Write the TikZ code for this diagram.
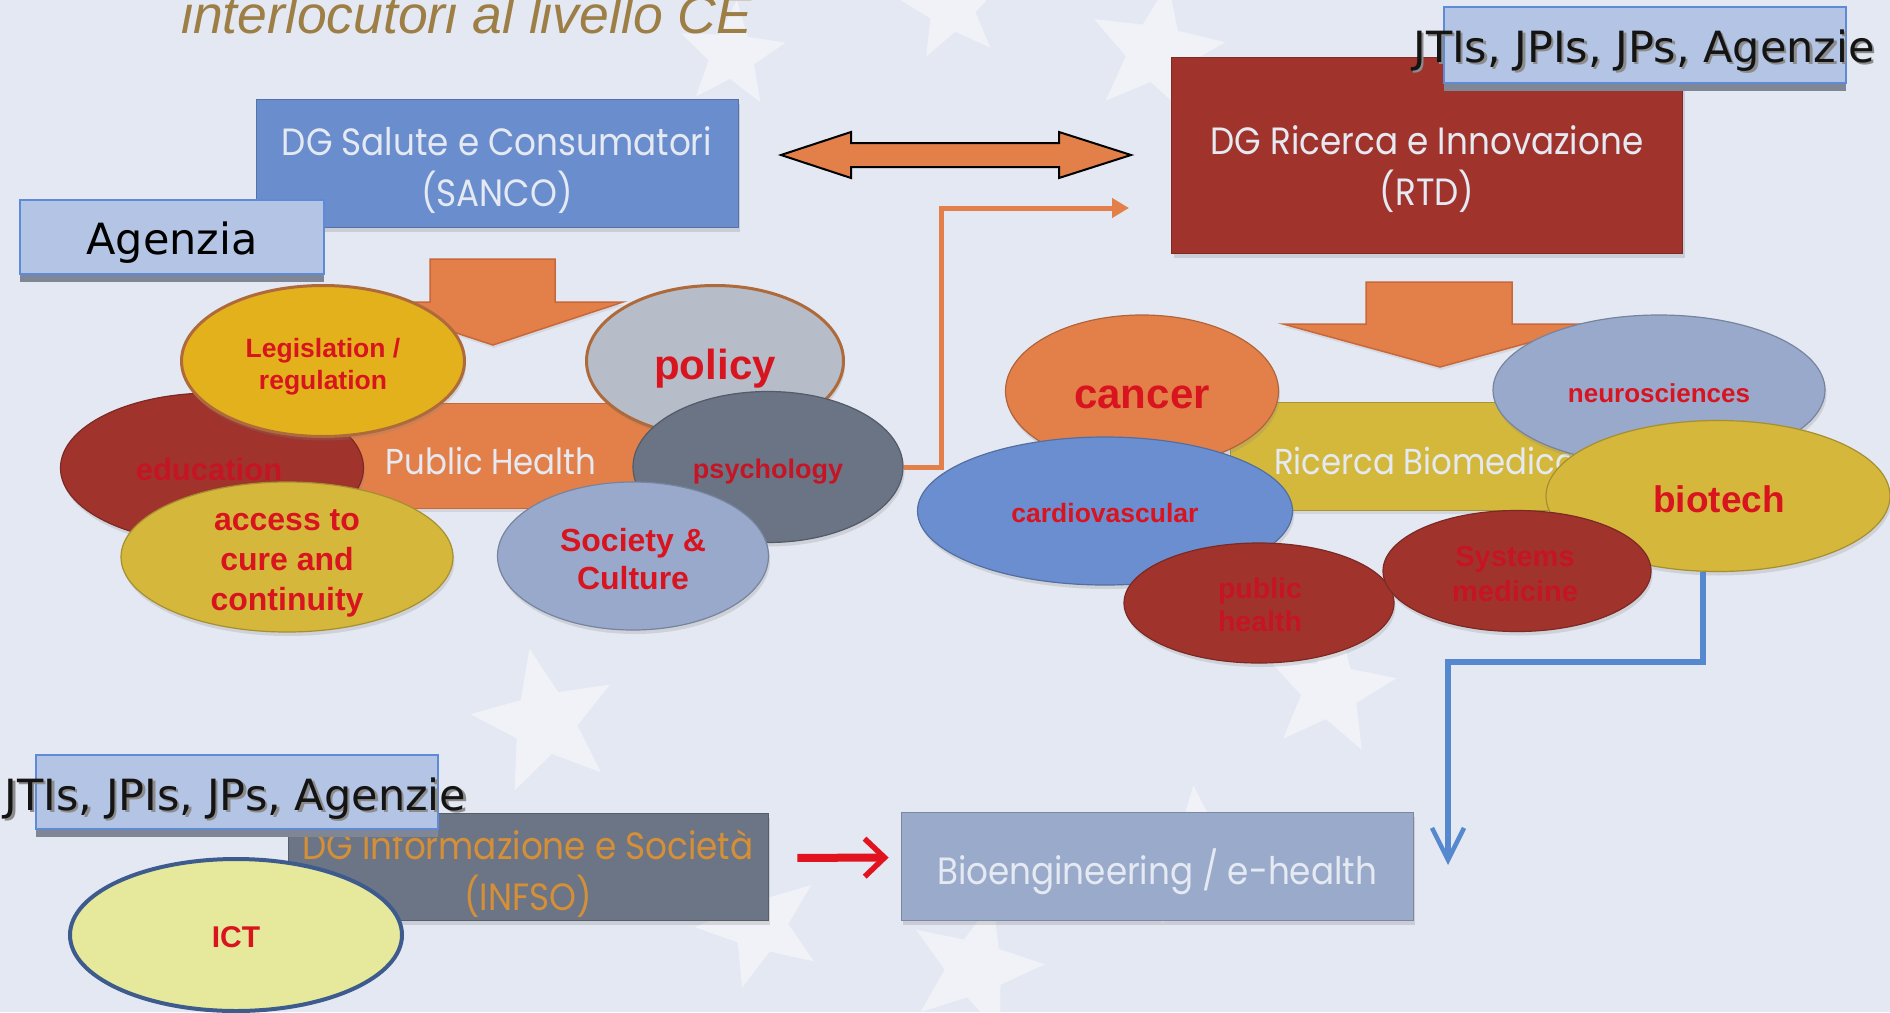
\documentclass[tikz,border=0pt]{standalone}
\usepackage{fontspec}
\setmainfont{Liberation Sans}
\newfontfamily\dejavu{DejaVu Sans}
\newfontfamily\twfont[FakeStretch=0.9]{Poppins}
\usetikzlibrary{shapes.geometric,arrows.meta,shadows,calc}

\definecolor{bg}{HTML}{E4E8F2}
\definecolor{sancoc}{HTML}{6A8DCE}
\definecolor{rtdc}{HTML}{A0342D}
\definecolor{tagfill}{HTML}{B4C4E4}
\definecolor{tagline}{HTML}{5F8AD6}
\definecolor{tagshadow}{HTML}{7F8796}
\definecolor{orangeA}{HTML}{E3804A}
\definecolor{orangeE}{HTML}{C8683A}
\definecolor{ricband}{HTML}{D4B83C}
\definecolor{darkred}{HTML}{A0342D}
\definecolor{legisc}{HTML}{E2B11C}
\definecolor{browne}{HTML}{AE6A3A}
\definecolor{accessc}{HTML}{D5B73C}
\definecolor{policyc}{HTML}{B6BCC8}
\definecolor{psychc}{HTML}{6A7485}
\definecolor{societyc}{HTML}{98A9CB}
\definecolor{cardioc}{HTML}{6A8ECF}
\definecolor{ictc}{HTML}{E6E89B}
\definecolor{icte}{HTML}{3D5B8D}
\definecolor{infsoc}{HTML}{6C7586}
\definecolor{bioec}{HTML}{9AAACB}
\definecolor{txtred}{HTML}{D8141F}
\definecolor{dimred}{HTML}{C51424}
\definecolor{boxtxt}{HTML}{E4E9F2}
\definecolor{infsotxt}{HTML}{E0922E}
\definecolor{titlec}{HTML}{9D7E45}
\definecolor{blueline}{HTML}{5588CE}
\definecolor{redarr}{HTML}{E1131F}

\begin{document}
\begin{tikzpicture}[x=1pt,y=-1pt,
  bgstar/.style={star, star points=5, star point ratio=2.3, inner sep=0pt, fill=white, fill opacity=0.45, draw=none},
  bub/.style={ellipse, inner sep=0pt, line width=1.2pt, draw=#1!78!black, fill=#1,
     drop shadow={shadow xshift=1.5pt, shadow yshift=-4pt, opacity=0.22}},
  bubtxt/.style={text=txtred, align=center, inner sep=0pt},
  dgbox/.style={rectangle, inner sep=0pt, line width=0.8pt, draw=#1!80!black, fill=#1,
     drop shadow={shadow xshift=2pt, shadow yshift=-5pt, opacity=0.25}},
  dglabel/.style={inner sep=0pt, align=center, text=boxtxt, font=\twfont\fontsize{38}{51}\selectfont},
  tagbox/.style={rectangle, inner sep=0pt, fill=tagfill, draw=tagline, line width=1.5pt,
     drop shadow={shadow xshift=0pt, shadow yshift=-8pt, fill=tagshadow, opacity=1}},
  tagtxt/.style={inner sep=0pt, anchor=base, font=\dejavu\fontsize{43}{50}\selectfont},
  blockarrow/.style={fill=orangeA, draw=orangeE, line width=1.5pt,
     drop shadow={shadow xshift=1pt, shadow yshift=-3pt, opacity=0.15}},
  bandtxt/.style={inner sep=0pt, text=boxtxt, font=\twfont\fontsize{36}{44}\selectfont}
]
% background
\fill[bg] (0,0) rectangle (1890,1012);
\useasboundingbox (0,0) rectangle (1890,1012);

% faint background stars
\node[bgstar, minimum size=150pt, rotate=12] (st1) at (545,722) {};
\node[bgstar, minimum size=135pt, rotate=-8] (st2) at (1330,690) {};
\node[bgstar, minimum size=150pt, rotate=5] (st3) at (1200,860) {};
\node[bgstar, minimum size=140pt, rotate=-15] (st4) at (975,968) {};
\node[bgstar, minimum size=130pt, rotate=20] (st5) at (760,925) {};
\node[bgstar, minimum size=140pt, rotate=-10] (st6) at (1156,52) {};
\node[bgstar, minimum size=110pt, rotate=8] (st7) at (952,8) {};
\node[bgstar, minimum size=110pt, rotate=-5] (st8) at (732,55) {};

% title
\node[anchor=base west, inner sep=0pt, font=\itshape\fontsize{53.5}{60}\selectfont, text=titlec] (title) at (181,33) {interlocutori al livello CE};

% DG SANCO + Agenzia
\node[dgbox=sancoc, minimum width=482pt, minimum height=128pt] (sanco) at (497,163) {};
\node[dglabel] (sancot) at ([yshift=-7pt]sanco.center) {DG Salute e Consumatori\\(SANCO)};
\node[tagbox, minimum width=304pt, minimum height=74pt] (agbox) at (172,237) {};
\node[tagtxt] (agtxt) at (172,254) {Agenzia};

% double arrow between DGs
\path[fill=orangeA, draw=black, line width=2pt, line join=miter]
  (781,155) -- (851,132) -- (851,143) -- (1059,143) -- (1059,132) -- (1131,155)
  -- (1059,178) -- (1059,167) -- (851,167) -- (851,178) -- cycle;

% DG RTD + tag
\node[dgbox=rtdc, minimum width=511pt, minimum height=196pt] (rtd) at (1427,155) {};
\node[dglabel] (rtdt) at ([yshift=-14pt]rtd.center) {DG Ricerca e Innovazione\\(RTD)};
\node[tagbox, minimum width=402pt, minimum height=76pt] (jtbox1) at (1645,45) {};
\node[tagtxt, text=black!45] (jt1s) at (1646.5,64.5) {JTIs, JPIs, JPs, Agenzie};
\node[tagtxt, text=black!92] (jt1) at (1644,62) {JTIs, JPIs, JPs, Agenzie};

% left group: Public Health
\path[blockarrow] (430,259) -- (555,259) -- (555,302) -- (623,302) -- (493,345) -- (362,302) -- (430,302) -- cycle;
\node[rectangle, fill=orangeA, draw=orangeE, line width=1pt, minimum width=390pt, minimum height=105pt, inner sep=0pt,
      drop shadow={shadow xshift=1pt, shadow yshift=-4pt, opacity=0.18}] (phband) at (525,455.5) {};
\node[bandtxt] (phtxt) at (491,461) {Public Health};

\node[bub=darkred, minimum width=303pt, minimum height=150pt] (edu) at (212,468) {};
\node[bubtxt, text=dimred, font=\bfseries\fontsize{31}{36}\selectfont] (edut) at (209,469) {education};

\node[bub=legisc, draw=browne, line width=3pt, minimum width=283pt, minimum height=151pt] (legis) at (323,361) {};
\node[bubtxt, font=\bfseries\fontsize{26.5}{32}\selectfont] (legist) at (323,367) {Legislation /\\regulation};

\node[bub=accessc, minimum width=332pt, minimum height=150pt] (access) at (287,557) {};
\node[bubtxt, font=\bfseries\fontsize{32}{40}\selectfont] (accesst) at (287,563) {access to\\cure and\\continuity};

\node[bub=policyc, draw=browne, line width=3pt, minimum width=257pt, minimum height=151pt] (policy) at (715,361) {};
\node[bubtxt, font=\bfseries\fontsize{42}{48}\selectfont] (policyt) at (715,369) {policy};

\node[bub=psychc, minimum width=270pt, minimum height=151pt] (psych) at (768,467) {};
\node[bubtxt, text=dimred, font=\bfseries\fontsize{27}{32}\selectfont] (psycht) at (768,472) {psychology};

\node[bub=societyc, minimum width=271pt, minimum height=148pt] (society) at (633,556) {};
\node[bubtxt, font=\bfseries\fontsize{32}{38}\selectfont] (societyt) at (633,559) {Society \&\\Culture};

% orange connector from psychology to RTD
\coordinate (oend) at (1129,208);
\draw[orangeA, line width=5pt, -{Triangle[length=17pt,width=19pt]}] (psych.east) -- ++(38,0) |- (oend);

% right group: Ricerca Biomedica
\path[blockarrow] (1366,282) -- (1512,282) -- (1512,324) -- (1597,324) -- (1440,367) -- (1283,324) -- (1366,324) -- cycle;
\node[rectangle, fill=ricband, draw=ricband!80!black, line width=1pt, minimum width=420pt, minimum height=108pt, inner sep=0pt,
      drop shadow={shadow xshift=1pt, shadow yshift=-4pt, opacity=0.18}] (ricband) at (1440,456) {};
\node[bandtxt, anchor=west] (rictxt) at (1274,461) {Ricerca Biomedica};

\node[bub=orangeA, minimum width=273pt, minimum height=152pt] (cancer) at (1142,391) {};
\node[bubtxt, font=\bfseries\fontsize{42}{48}\selectfont] (cancert) at (1142,397) {cancer};

\node[bub=societyc, minimum width=332pt, minimum height=150pt] (neuro) at (1659,390) {};
\node[bubtxt, font=\bfseries\fontsize{26}{30}\selectfont] (neurot) at (1659,393) {neurosciences};

\node[bub=cardioc, minimum width=375pt, minimum height=148pt] (cardio) at (1105,511) {};
\node[bubtxt, font=\bfseries\fontsize{26.5}{30}\selectfont] (cardiot) at (1105,513) {cardiovascular};

\node[bub=accessc, minimum width=344pt, minimum height=151pt] (biotech) at (1718,496) {};
\node[bubtxt, font=\bfseries\fontsize{37}{42}\selectfont] (biotecht) at (1719,499) {biotech};

\node[bub=darkred, minimum width=270pt, minimum height=120pt] (pubh) at (1259,603) {};
\node[bubtxt, text=dimred, font=\bfseries\fontsize{28.5}{33}\selectfont] (pubht) at (1260,605) {public\\health};

\node[bub=darkred, minimum width=268pt, minimum height=121pt] (sysmed) at (1517,571) {};
\node[bubtxt, text=dimred, font=\bfseries\fontsize{29}{35}\selectfont] (sysmedt) at (1515,574) {Systems\\medicine};

% bottom row
\node[dgbox=infsoc, minimum width=480pt, minimum height=107pt] (infso) at (528,866.5) {};
\node[dglabel, text=infsotxt!90!infsoc] (infsot) at ([yshift=-7pt]infso.center) {DG Informazione e Società\\(INFSO)};
\node[tagbox, minimum width=402pt, minimum height=74pt] (jtbox2) at (237,792) {};
\node[tagtxt, text=black!45] (jt2s) at (238,812.5) {JTIs, JPIs, JPs, Agenzie};
\node[tagtxt, text=black!92] (jt2) at (235.5,810) {JTIs, JPIs, JPs, Agenzie};

\node[ellipse, inner sep=0pt, fill=ictc, draw=icte, line width=4pt, minimum width=332pt, minimum height=152pt] (ict) at (236,935) {};
\node[bubtxt, font=\bfseries\fontsize{30}{36}\selectfont] (ictt) at (236,937) {ICT};

\node[dgbox=bioec, minimum width=512pt, minimum height=108pt] (bioe) at (1157,866) {};
\node[dglabel] (bioet) at ([yshift=-6pt]bioe.center) {Bioengineering / e-health};

% red arrow INFSO -> Bioengineering
\draw[redarr, line width=8pt, shorten <=29pt, shorten >=12pt,
      -{Straight Barb[length=20pt,width=38pt,line width=5.5pt]}] ([yshift=8.5pt]infso.east) -- ([yshift=8.5pt]bioe.west);

% blue connector from biotech down
\coordinate (bend) at (1448,865);
\draw[blueline, line width=6.5pt, line join=miter,
      -{Straight Barb[length=32pt,width=32pt,line width=4.5pt]}] ([xshift=-15pt]biotech.south) -- ++(0,90) -| (bend);
\end{tikzpicture}
\end{document}
